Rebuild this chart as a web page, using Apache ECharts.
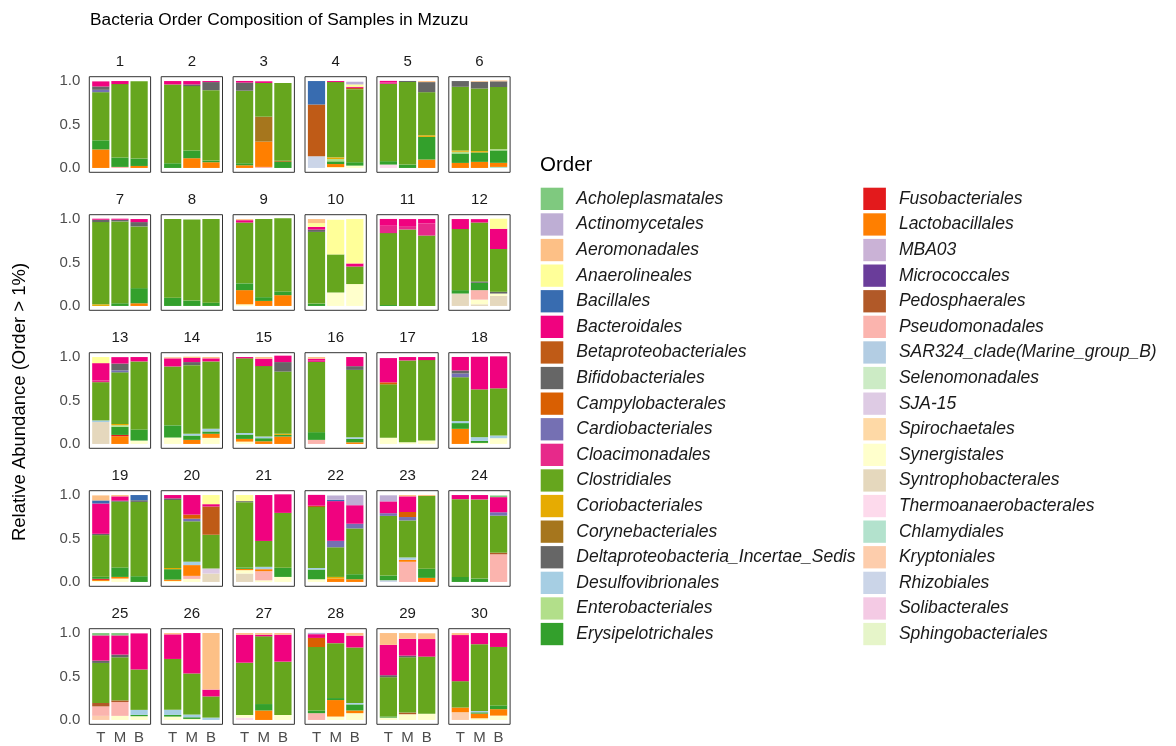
<!DOCTYPE html>
<html><head><meta charset="utf-8">
<script src="https://cdn.jsdelivr.net/npm/echarts@6/dist/echarts.min.js"></script>
<style>html,body{margin:0;padding:0;background:#fff}#c{width:1176px;height:746px}</style>
</head><body><div id="c"></div><script>
const orders = ['Acholeplasmatales','Actinomycetales','Aeromonadales','Anaerolineales','Bacillales','Bacteroidales','Betaproteobacteriales','Bifidobacteriales','Campylobacterales','Cardiobacteriales','Cloacimonadales','Clostridiales','Coriobacteriales','Corynebacteriales','Deltaproteobacteria_Incertae_Sedis','Desulfovibrionales','Enterobacteriales','Erysipelotrichales','Fusobacteriales','Lactobacillales','MBA03','Micrococcales','Pedosphaerales','Pseudomonadales','SAR324_clade(Marine_group_B)','Selenomonadales','SJA-15','Spirochaetales','Synergistales','Syntrophobacterales','Thermoanaerobacterales','Chlamydiales','Kryptoniales','Rhizobiales','Solibacterales','Sphingobacteriales'];
const orderColors = ['#7FC97F','#BEAED4','#FDC086','#FFFF99','#386CB0','#F0027F','#BF5B17','#666666','#D95F02','#7570B3','#E7298A','#66A61E','#E6AB02','#A6761D','#666666','#A6CEE3','#B2DF8A','#33A02C','#E31A1C','#FF7F00','#CAB2D6','#6A3D9A','#B15928','#FBB4AE','#B3CDE3','#CCEBC5','#DECBE4','#FED9A6','#FFFFCC','#E5D8BD','#FDDAEC','#B3E2CD','#FDCDAC','#CBD5E8','#F4CAE4','#E6F5C9'];
const positions = ['T','M','B'];
const sampleLabels = ['1','2','3','4','5','6','7','8','9','10','11','12','13','14','15','16','17','18','19','20','21','22','23','24','25','26','27','28','29','30'];
const yTicks = [0, 0.5, 1];

// each row: [order, T, M, B]
const s1 = [['Bacteroidales',0.058,0.035,0],['Bifidobacteriales',0.039,0,0],['Cardiobacteriales',0.027,0,0],['Clostridiales',0.554,0.845,0.891],['Erysipelotrichales',0.105,0.108,0.085],['Lactobacillales',0.213,0,0.023],['Pseudomonadales',0,0.012,0]];
const s2 = [['Bacteroidales',0.039,0.039,0.012],['Bifidobacteriales',0,0.019,0.093],['Clostridiales',0.907,0.741,0.81],['Erysipelotrichales',0.054,0.089,0.019],['Lactobacillales',0,0.112,0.066]];
const s3 = [['Bacteroidales',0.019,0.019,0],['Bifidobacteriales',0.093,0,0],['Clostridiales',0.835,0.388,0.895],['Corynebacteriales',0,0.287,0.012],['Erysipelotrichales',0.023,0,0.07],['Lactobacillales',0.031,0.291,0],['Pseudomonadales',0,0.012,0]];
const s4 = [['Actinomycetales',0,0,0.031],['Anaerolineales',0,0,0.027],['Bacillales',0.27,0,0],['Bacteroidales',0,0.012,0.012],['Betaproteobacteriales',0.595,0,0.015],['Clostridiales',0,0.866,0.841],['Coriobacteriales',0,0.019,0],['Enterobacteriales',0,0.027,0],['Erysipelotrichales',0,0.031,0.039],['Lactobacillales',0,0.035,0],['Synergistales',0,0.01,0.027],['Rhizobiales',0.135,0,0]];
const s5 = [['Aeromonadales',0,0,0.012],['Bacteroidales',0.019,0,0],['Bifidobacteriales',0,0.012,0.116],['Cloacimonadales',0.015,0,0],['Clostridiales',0.89,0.95,0.496],['Coriobacteriales',0,0,0.019],['Erysipelotrichales',0.039,0.039,0.26],['Lactobacillales',0,0,0.097],['Thermoanaerobacterales',0.039,0,0]];
const s6 = [['Aeromonadales',0,0.008,0.01],['Bifidobacteriales',0.066,0.078,0.066],['Clostridiales',0.733,0.72,0.717],['Coriobacteriales',0.015,0.015,0],['Enterobacteriales',0.019,0,0.012],['Erysipelotrichales',0.109,0.109,0.143],['Lactobacillales',0.058,0.07,0.047],['Chlamydiales',0,0,0.012]];
const s7 = [['Bacteroidales',0.012,0.012,0.035],['Bifidobacteriales',0.027,0.019,0.05],['Clostridiales',0.946,0.942,0.71],['Coriobacteriales',0.019,0,0],['Erysipelotrichales',0,0.031,0.174],['Lactobacillales',0,0,0.031]];
const s8 = [['Clostridiales',0.905,0.934,0.962],['Erysipelotrichales',0.095,0.062,0.038]];
const s9 = [['Aeromonadales',0.012,0,0],['Bacteroidales',0.027,0,0],['Clostridiales',0.70,0.899,0.841],['Erysipelotrichales',0.078,0.043,0.043],['Lactobacillales',0.163,0.058,0.124],['Synergistales',0.019,0,0]];
const s10 = [['Aeromonadales',0.047,0,0],['Anaerolineales',0.043,0.399,0.511],['Bacteroidales',0.031,0,0.035],['Bifidobacteriales',0.027,0,0],['Clostridiales',0.825,0.438,0.202],['Erysipelotrichales',0.027,0,0],['Synergistales',0,0.155,0.252]];
const s11 = [['Bacteroidales',0.078,0.081,0.05],['Cloacimonadales',0.085,0.039,0.14],['Clostridiales',0.826,0.88,0.81],['Erysipelotrichales',0.012,0,0]];
const s12 = [['Anaerolineales',0,0,0.116],['Bacteroidales',0.115,0.039,0.233],['Clostridiales',0.703,0.678,0.492],['Deltaproteobacteria_Incertae_Sedis',0,0.015,0.02],['Erysipelotrichales',0.039,0.085,0],['Pseudomonadales',0,0.109,0],['Synergistales',0,0.054,0.027],['Syntrophobacterales',0.143,0.019,0.116]];
const s13 = [['Anaerolineales',0.07,0,0],['Bacteroidales',0.2,0.074,0.05],['Bifidobacteriales',0,0.078,0],['Cardiobacteriales',0,0.023,0],['Cloacimonadales',0.019,0,0],['Clostridiales',0.44,0.593,0.783],['Coriobacteriales',0,0.015,0],['Desulfovibrionales',0.019,0,0],['Enterobacteriales',0,0.019,0],['Erysipelotrichales',0,0.093,0.128],['Fusobacteriales',0,0.015,0],['Lactobacillales',0,0.089,0],['Synergistales',0,0,0.039],['Syntrophobacterales',0.252,0,0]];
const s14 = [['Aeromonadales',0.012,0.015,0.015],['Bacteroidales',0.093,0.047,0.035],['Bifidobacteriales',0,0.035,0],['Clostridiales',0.678,0.791,0.775],['Desulfovibrionales',0,0.019,0.031],['Erysipelotrichales',0.14,0.05,0.027],['Lactobacillales',0,0.047,0.047],['Synergistales',0.074,0,0.07]];
const s15 = [['Aeromonadales',0,0.019,0],['Bacteroidales',0.015,0.085,0.074],['Bifidobacteriales',0,0,0.109],['Clostridiales',0.858,0.811,0.717],['Coriobacteriales',0,0,0.012],['Desulfovibrionales',0.019,0.019,0],['Erysipelotrichales',0.05,0.035,0.019],['Lactobacillales',0.031,0.031,0.085],['Synergistales',0.027,0,0]];
const s16 = [['Aeromonadales',0.019,0,0],['Bacteroidales',0.023,0,0.105],['Bifidobacteriales',0,0,0.043],['Cloacimonadales',0.015,0,0],['Clostridiales',0.807,0,0.775],['Desulfovibrionales',0,0,0.019],['Erysipelotrichales',0.089,0,0.039],['Lactobacillales',0,0,0.019],['Pseudomonadales',0.047,0,0]];
const s17 = [['Bacteroidales',0.279,0.039,0.035],['Campylobacterales',0.023,0,0],['Clostridiales',0.616,0.942,0.926],['Synergistales',0.07,0.019,0.039]];
const s18 = [['Bacteroidales',0.155,0.375,0.368],['Bifidobacteriales',0.035,0,0],['Cardiobacteriales',0.043,0,0],['Clostridiales',0.505,0.55,0.543],['Desulfovibrionales',0.023,0.043,0.031],['Erysipelotrichales',0.066,0.023,0],['Lactobacillales',0.174,0,0],['Synergistales',0,0.012,0.066]];
const s19 = [['Aeromonadales',0.058,0.015,0],['Bacillales',0.035,0,0.06],['Bacteroidales',0.349,0.05,0],['Bifidobacteriales',0.015,0.012,0.019],['Clostridiales',0.48,0.756,0.855],['Erysipelotrichales',0.023,0.109,0.066],['Fusobacteriales',0.012,0,0],['Lactobacillales',0.012,0.019,0],['Synergistales',0.012,0.039,0]];
const s20 = [['Anaerolineales',0,0,0.105],['Bacteroidales',0.038,0.225,0.027],['Betaproteobacteriales',0,0,0.325],['Bifidobacteriales',0.019,0,0],['Campylobacterales',0,0.047,0],['Cardiobacteriales',0,0.03,0],['Clostridiales',0.781,0.465,0.388],['Coriobacteriales',0.015,0,0],['Desulfovibrionales',0,0.039,0],['Erysipelotrichales',0.12,0,0],['Lactobacillales',0.015,0.124,0],['Pseudomonadales',0,0.035,0],['SJA-15',0,0,0.058],['Synergistales',0.012,0.035,0],['Syntrophobacterales',0,0,0.097]];
const s21 = [['Anaerolineales',0.07,0,0],['Bacteroidales',0,0.528,0.213],['Bifidobacteriales',0.012,0,0],['Clostridiales',0.752,0.298,0.632],['Desulfovibrionales',0,0.027,0],['Erysipelotrichales',0.015,0,0.105],['Lactobacillales',0.015,0.023,0],['Pseudomonadales',0,0.105,0],['Synergistales',0.039,0.019,0.058],['Syntrophobacterales',0.097,0,0]];
const s22 = [['Actinomycetales',0,0.05,0.116],['Bacillales',0,0.015,0],['Bacteroidales',0.125,0.457,0.213],['Betaproteobacteriales',0.015,0,0],['Cardiobacteriales',0,0.074,0.054],['Clostridiales',0.7,0.341,0.527],['Coriobacteriales',0,0.019,0],['Desulfovibrionales',0.019,0,0],['Erysipelotrichales',0.112,0,0.058],['Lactobacillales',0,0.039,0.031],['Synergistales',0.031,0,0]];
const s23 = [['Actinomycetales',0.07,0,0],['Aeromonadales',0,0.015,0.012],['Bacteroidales',0.136,0.18,0],['Campylobacterales',0,0.058,0],['Cardiobacteriales',0.031,0.039,0],['Clostridiales',0.686,0.426,0.837],['Desulfovibrionales',0,0.027,0],['Erysipelotrichales',0.054,0,0.105],['Lactobacillales',0,0.023,0.047],['Pseudomonadales',0,0.232,0],['Rhizobiales',0.02,0,0]];
const s24 = [['Acholeplasmatales',0,0,0.019],['Bacteroidales',0.047,0.05,0.174],['Cardiobacteriales',0,0,0.039],['Clostridiales',0.895,0.911,0.426],['Erysipelotrichales',0.058,0.039,0],['Pedosphaerales',0,0,0.019],['Pseudomonadales',0,0,0.318]];
const s25 = [['Acholeplasmatales',0.027,0.027,0],['Bacteroidales',0.29,0.221,0.415],['Bifidobacteriales',0.027,0.031,0],['Clostridiales',0.461,0.496,0.465],['Desulfovibrionales',0,0,0.058],['Erysipelotrichales',0,0,0.015],['Pedosphaerales',0.039,0.019,0],['Pseudomonadales',0.109,0.159,0],['Synergistales',0,0.047,0.043],['Kryptoniales',0.047,0,0]];
const s26 = [['Aeromonadales',0.015,0,0.651],['Bacteroidales',0.283,0.465,0.078],['Clostridiales',0.586,0.473,0.244],['Desulfovibrionales',0.058,0.031,0.027],['Erysipelotrichales',0.019,0.019,0],['Synergistales',0.039,0.012,0]];
const s27 = [['Aeromonadales',0.019,0.019,0.019],['Bacteroidales',0.322,0.019,0.31],['Clostridiales',0.601,0.779,0.613],['Erysipelotrichales',0,0.074,0],['Lactobacillales',0,0.109,0],['Synergistales',0.031,0,0.058],['Thermoanaerobacterales',0.027,0,0]];
const s28 = [['Actinomycetales',0.015,0,0],['Aeromonadales',0,0,0.031],['Bacteroidales',0.043,0.116,0.136],['Campylobacterales',0.105,0,0],['Clostridiales',0.73,0.632,0.64],['Desulfovibrionales',0,0,0.015],['Erysipelotrichales',0.031,0.023,0.07],['Lactobacillales',0,0.19,0.031],['Pseudomonadales',0.078,0,0],['Synergistales',0,0.039,0.078]];
const s29 = [['Aeromonadales',0.136,0.066,0.066],['Bacteroidales',0.349,0.194,0.202],['Bifidobacteriales',0.023,0.019,0],['Clostridiales',0.453,0.636,0.659],['Erysipelotrichales',0.012,0,0],['Pedosphaerales',0,0.019,0],['Synergistales',0.027,0.066,0.07]];
const s30 = [['Aeromonadales',0.023,0,0],['Bacteroidales',0.531,0.128,0.16],['Clostridiales',0.303,0.769,0.673],['Desulfovibrionales',0,0.015,0],['Erysipelotrichales',0,0.015,0.043],['Lactobacillales',0.054,0.054,0.074],['Synergistales',0,0.019,0.05],['Kryptoniales',0.089,0,0]];
const samples = [s1,s2,s3,s4,s5,s6,s7,s8,s9,s10,s11,s12,s13,s14,s15,s16,s17,s18,s19,s20,s21,s22,s23,s24,s25,s26,s27,s28,s29,s30];

const FONT = '"Liberation Sans", Arial, Helvetica, sans-serif';
const P = {left: 89.3, top: 76.7, dx: 71.9, dy: 138, w: 61.3, h: 95.6, cols: 6};
const unit = P.w / 3.2;

const grids = [], xAxes = [], yAxes = [], series = [], graphics = [];
samples.forEach((smp, i) => {
  const c = i % P.cols, r = Math.floor(i / P.cols);
  const L = P.left + c * P.dx, T = P.top + r * P.dy;
  grids.push({left: L + 0.1 * unit, top: T, width: 3 * unit, height: P.h, containLabel: false});
  xAxes.push({type: 'category', gridIndex: i, data: positions, axisLine: {show: false}, axisTick: {show: false},
    splitLine: {show: false},
    axisLabel: {show: r === 4, fontSize: 15, color: '#4D4D4D', fontFamily: FONT, margin: 6}});
  yAxes.push({type: 'value', gridIndex: i, min: -0.05, max: 1.05, axisLine: {show: false}, axisTick: {show: false},
    splitLine: {show: false},
    axisLabel: {show: c === 0, customValues: yTicks, formatter: v => Number(v).toFixed(1), fontSize: 15,
      color: '#4D4D4D', fontFamily: FONT, margin: 9 + 0.1 * unit}});
  const map = {};
  smp.forEach(row => { map[row[0]] = row.slice(1); });
  for (let k = orders.length - 1; k >= 0; k--) {
    const name = orders[k];
    if (!map[name] && i !== 0) continue;
    series.push({type: 'bar', name: name, xAxisIndex: i, yAxisIndex: i, stack: 'st' + i,
      data: map[name] || [0, 0, 0], barWidth: 0.9 * unit, silent: true,
      itemStyle: {color: orderColors[k]}});
  }
  graphics.push({type: 'rect', z: 100, silent: true, shape: {x: L, y: T, width: P.w, height: P.h},
    style: {fill: 'none', stroke: '#333333', lineWidth: 1}});
  graphics.push({type: 'text', z: 100, silent: true, x: L + P.w / 2, y: T - 15,
    style: {text: sampleLabels[i], font: '15px ' + FONT, fill: '#1A1A1A', textAlign: 'center', textVerticalAlign: 'middle', align: 'center', verticalAlign: 'middle'}});
});

graphics.push({type: 'text', z: 100, x: 90, y: 20,
  style: {text: 'Bacteria Order Composition of Samples in Mzuzu', font: '17.3px ' + FONT, fill: '#000', textAlign: 'left', textVerticalAlign: 'middle', align: 'left', verticalAlign: 'middle'}});
graphics.push({type: 'text', z: 100, x: 540, y: 165,
  style: {text: 'Order', font: '20.5px ' + FONT, fill: '#000', textAlign: 'left', textVerticalAlign: 'middle', align: 'left', verticalAlign: 'middle'}});
graphics.push({type: 'text', z: 100, x: 20, y: 402, rotation: Math.PI / 2,
  style: {text: 'Relative Abundance (Order > 1%)', font: '18.5px ' + FONT, fill: '#000', textAlign: 'center', textVerticalAlign: 'middle', align: 'center', verticalAlign: 'middle'}});

const legendBase = {orient: 'vertical', top: 187.7, padding: 0, itemWidth: 22.6, itemHeight: 22.3, itemGap: 3.3,
  icon: 'rect', selectedMode: false,
  textStyle: {fontStyle: 'italic', fontSize: 17.5, color: '#1A1A1A', fontFamily: FONT, padding: [0, 0, 0, 8]}};

const chart = echarts.init(document.getElementById('c'), null, {renderer: 'canvas'});
chart.setOption({
  animation: false,
  backgroundColor: '#ffffff',
  grid: grids, xAxis: xAxes, yAxis: yAxes, series: series,
  legend: [Object.assign({}, legendBase, {left: 540.7, data: orders.slice(0, 18)}),
           Object.assign({}, legendBase, {left: 863.3, data: orders.slice(18)})],
  graphic: {elements: graphics}
});
</script></body></html>
